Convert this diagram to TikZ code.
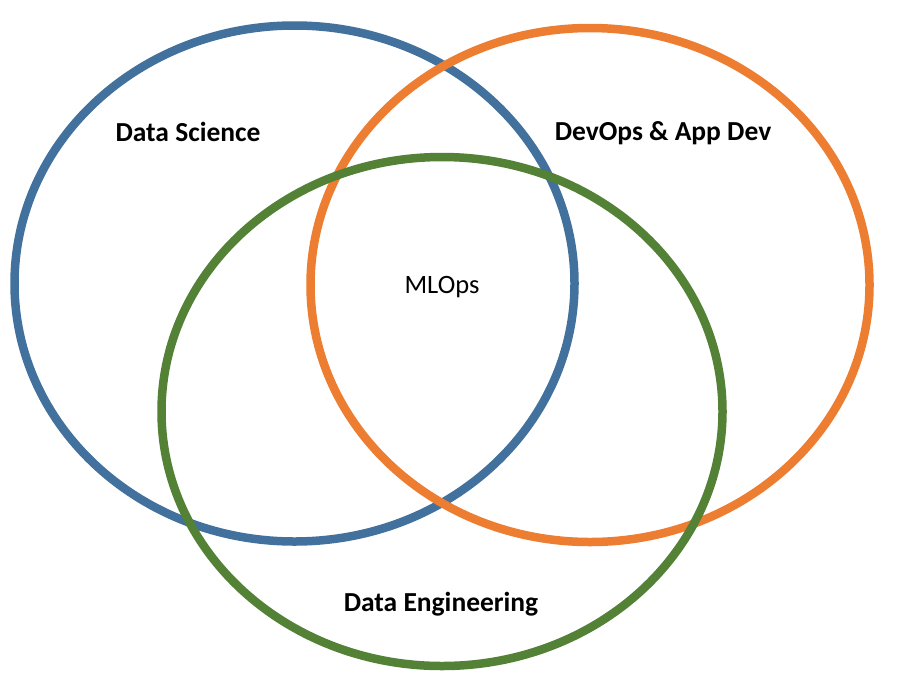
\documentclass[tikz,border=0pt]{standalone}
\usepackage{fontspec}
\setmainfont{Carlito}
\definecolor{dsblue}{HTML}{41719C}
\definecolor{devorange}{HTML}{ED7D31}
\definecolor{degreen}{HTML}{538135}
\begin{document}
\begin{tikzpicture}[x=1pt,y=-1pt,
  ring/.style={line width=8.5pt},
  label/.style={font=\fontsize{27.5}{32}\selectfont\bfseries, text=black, inner sep=0pt}]
\useasboundingbox (0,0) rectangle (904,691);
% the three overlapping fields
\draw[ring, dsblue] (294.5,283.5) ellipse [x radius=280, y radius=258];
\draw[ring, devorange] (590,285) ellipse [x radius=279.5, y radius=257];
\draw[ring, degreen] (442,411.5) ellipse [x radius=280.5, y radius=254.5];
% labels
\node[label] (ds) at (188,132) {Data Science};
\node[label] (dev) at (663,133) {DevOps \& App Dev};
\node[label, font=\fontsize{26.5}{31}\selectfont] (ml) at (442,287) {MLOps};
\node[label] (de) at (441,604) {Data Engineering};
\end{tikzpicture}
\end{document}
